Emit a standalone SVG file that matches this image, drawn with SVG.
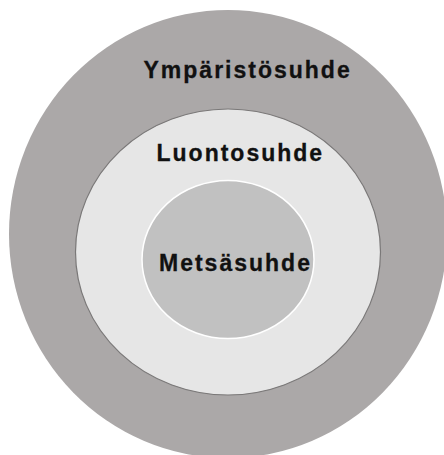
<svg xmlns="http://www.w3.org/2000/svg" width="444" height="455" viewBox="0 0 444 455">
<style>
.lbl{font-family:"Liberation Sans",Arial,sans-serif;font-weight:bold;font-size:23px;letter-spacing:2px;fill:#111;stroke:#111;stroke-width:0.3}
</style>
<rect width="444" height="455" fill="#ffffff"/>
<g id="ymparistosuhde">
<ellipse cx="228" cy="234" rx="219" ry="224" fill="#aba8a8"/>
<text class="lbl" x="143.5" y="78">Ympäristösuhde</text>
</g>
<g id="luontosuhde">
<ellipse cx="228" cy="252" rx="152.5" ry="143" fill="#e6e6e6" stroke="#7a7878" stroke-width="1.2"/>
<text class="lbl" x="156.5" y="161">Luontosuhde</text>
</g>
<g id="metsasuhde">
<ellipse cx="228" cy="259.5" rx="86" ry="79" fill="#c1c1c1" stroke="#ffffff" stroke-width="1.5"/>
<text class="lbl" x="159" y="271">Metsäsuhde</text>
</g>
<g id="connectors"/>
</svg>
